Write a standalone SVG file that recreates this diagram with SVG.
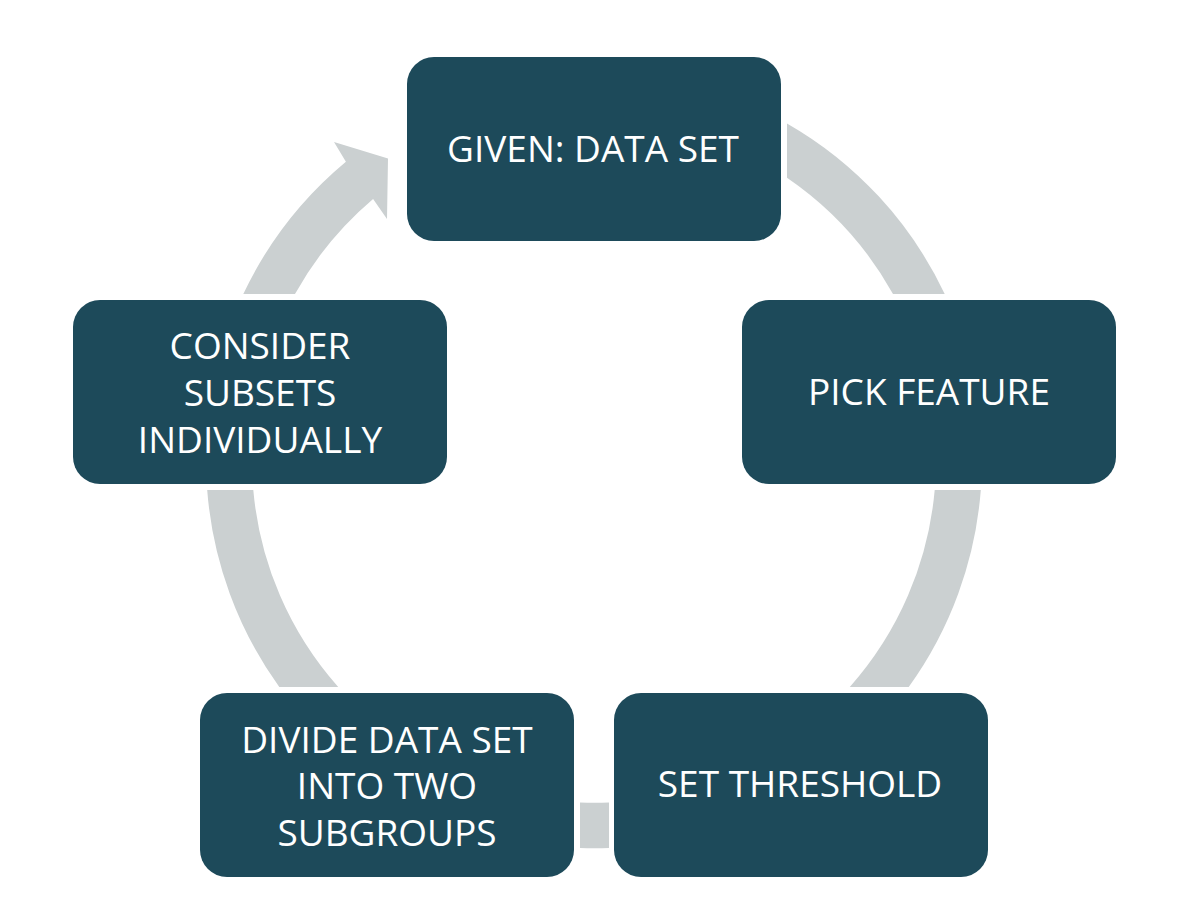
<svg xmlns="http://www.w3.org/2000/svg" width="1198" height="922" viewBox="0 0 1198 922">
  <style>
    .box { fill: #1D4A5A; }
    .arc { fill: #CBD0D1; }
    .lbl { fill: #FFFFFF; font-family: "Open Sans", "Noto Sans", sans-serif; font-size: 37px; text-anchor: middle; }
  </style>
  <rect width="1198" height="922" fill="#FFFFFF"/>
  <g id="connectors">
    <path class="arc" d="M 787 123.4 A 388 388 0 0 1 944.7 294 L 893 294 A 342 342 0 0 0 787 177.7 Z"/>
    <path class="arc" d="M 980.8 490 A 388 388 0 0 1 908.7 687 L 849.8 687 A 342 342 0 0 0 934.7 490 Z"/>
    <path class="arc" d="M 609 848 A 388 388 0 0 1 580 848 L 580 802.5 A 342 342 0 0 0 609 802.5 Z"/>
    <path class="arc" d="M 279.3 687 A 388 388 0 0 1 207.2 490 L 253.3 490 A 342 342 0 0 0 338.2 687 Z"/>
    <path class="arc" d="M 243.3 294 A 388 388 0 0 1 345.9 161.7 L 334 142 L 388 158.5 L 387 219 L 373.1 198.9 A 342 342 0 0 0 295 294 Z"/>
  </g>
  <g id="node-given">
    <rect class="box" x="407" y="57" width="374" height="184" rx="27"/>
    <text class="lbl" x="593" y="162">GIVEN: DATA SET</text>
  </g>
  <g id="node-pick">
    <rect class="box" x="742" y="300" width="374" height="184" rx="27"/>
    <text class="lbl" x="929" y="405">PICK FEATURE</text>
  </g>
  <g id="node-threshold">
    <rect class="box" x="614" y="693" width="374" height="184" rx="27"/>
    <text class="lbl" x="800" y="797">SET THRESHOLD</text>
  </g>
  <g id="node-divide">
    <rect class="box" x="200" y="693" width="374" height="184" rx="27"/>
    <text class="lbl" x="387" y="752.5">DIVIDE DATA SET</text>
    <text class="lbl" x="387" y="799">INTO TWO</text>
    <text class="lbl" x="387" y="845.5">SUBGROUPS</text>
  </g>
  <g id="node-consider">
    <rect class="box" x="73" y="300" width="374" height="184" rx="27"/>
    <text class="lbl" x="260" y="359">CONSIDER</text>
    <text class="lbl" x="260" y="406">SUBSETS</text>
    <text class="lbl" x="260" y="453">INDIVIDUALLY</text>
  </g>
</svg>
